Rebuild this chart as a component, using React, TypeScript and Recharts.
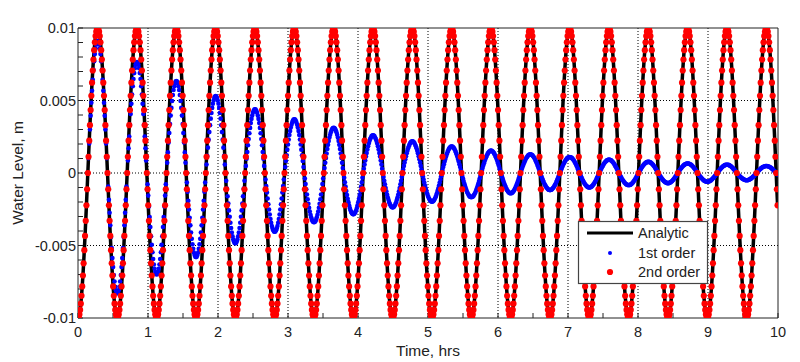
import { ComposedChart, Line, Scatter, XAxis, YAxis, CartesianGrid } from 'recharts';

// sampling interval of the model output (hrs)
const SAMPLE_STEP_HRS = 0.010034;
// levels below are stored in units of 0.01 mm (1e-5 m)
const LEVEL_UNIT_M = 1e-5;

// analytic solution, one half-cycle per row
const analyticLevel = [
  -1000, -994, -975, -944, -901, -847, -782, -707, -623, -532, -434, -330, -223, -112,
  0, 112, 223, 330, 434, 532, 623, 707, 782, 847, 901, 944, 975, 994, 1000, 994, 975, 944, 901, 847, 782, 707, 623, 532, 434, 330, 223, 112,
  0, -112, -223, -330, -434, -532, -623, -707, -782, -847, -901, -944, -975, -994, -1000, -994, -975, -944, -901, -847, -782, -707, -623, -532, -434, -330, -223, -112,
  0, 112, 223, 330, 434, 532, 623, 707, 782, 847, 901, 944, 975, 994, 1000, 994, 975, 944, 901, 847, 782, 707, 623, 532, 434, 330, 223, 112,
  0, -112, -223, -330, -434, -532, -623, -707, -782, -847, -901, -944, -975, -994, -1000, -994, -975, -944, -901, -847, -782, -707, -623, -532, -434, -330, -223, -112,
  0, 112, 223, 330, 434, 532, 623, 707, 782, 847, 901, 944, 975, 994, 1000, 994, 975, 944, 901, 847, 782, 707, 623, 532, 434, 330, 223, 112,
  0, -112, -223, -330, -434, -532, -623, -707, -782, -847, -901, -944, -975, -994, -1000, -994, -975, -944, -901, -847, -782, -707, -623, -532, -434, -330, -223, -112,
  0, 112, 223, 330, 434, 532, 623, 707, 782, 847, 901, 944, 975, 994, 1000, 994, 975, 944, 901, 847, 782, 707, 623, 532, 434, 330, 223, 112,
  0, -112, -223, -330, -434, -532, -623, -707, -782, -847, -901, -944, -975, -994, -1000, -994, -975, -944, -901, -847, -782, -707, -623, -532, -434, -330, -223, -112,
  0, 112, 223, 330, 434, 532, 623, 707, 782, 847, 901, 944, 975, 994, 1000, 994, 975, 944, 901, 847, 782, 707, 623, 532, 434, 330, 223, 112,
  0, -112, -223, -330, -434, -532, -623, -707, -782, -847, -901, -944, -975, -994, -1000, -994, -975, -944, -901, -847, -782, -707, -623, -532, -434, -330, -223, -112,
  0, 112, 223, 330, 434, 532, 623, 707, 782, 847, 901, 944, 975, 994, 1000, 994, 975, 944, 901, 847, 782, 707, 623, 532, 434, 330, 223, 112,
  0, -112, -223, -330, -434, -532, -623, -707, -782, -847, -901, -944, -975, -994, -1000, -994, -975, -944, -901, -847, -782, -707, -623, -532, -434, -330, -223, -112,
  0, 112, 223, 330, 434, 532, 623, 707, 782, 847, 901, 944, 975, 994, 1000, 994, 975, 944, 901, 847, 782, 707, 623, 532, 434, 330, 223, 112,
  0, -112, -223, -330, -434, -532, -623, -707, -782, -847, -901, -944, -975, -994, -1000, -994, -975, -944, -901, -847, -782, -707, -623, -532, -434, -330, -223, -112,
  0, 112, 223, 330, 434, 532, 623, 707, 782, 847, 901, 944, 975, 994, 1000, 994, 975, 944, 901, 847, 782, 707, 623, 532, 434, 330, 223, 112,
  0, -112, -223, -330, -434, -532, -623, -707, -782, -847, -901, -944, -975, -994, -1000, -994, -975, -944, -901, -847, -782, -707, -623, -532, -434, -330, -223, -112,
  0, 112, 223, 330, 434, 532, 623, 707, 782, 847, 901, 944, 975, 994, 1000, 994, 975, 944, 901, 847, 782, 707, 623, 532, 434, 330, 223, 112,
  0, -112, -223, -330, -434, -532, -623, -707, -782, -847, -901, -944, -975, -994, -1000, -994, -975, -944, -901, -847, -782, -707, -623, -532, -434, -330, -223, -112,
  0, 112, 223, 330, 434, 532, 623, 707, 782, 847, 901, 944, 975, 994, 1000, 994, 975, 944, 901, 847, 782, 707, 623, 532, 434, 330, 223, 112,
  0, -112, -223, -330, -434, -532, -623, -707, -782, -847, -901, -944, -975, -994, -1000, -994, -975, -944, -901, -847, -782, -707, -623, -532, -434, -330, -223, -112,
  0, 112, 223, 330, 434, 532, 623, 707, 782, 847, 901, 944, 975, 994, 1000, 994, 975, 944, 901, 847, 782, 707, 623, 532, 434, 330, 223, 112,
  0, -112, -223, -330, -434, -532, -623, -707, -782, -847, -901, -944, -975, -994, -1000, -994, -975, -944, -901, -847, -782, -707, -623, -532, -434, -330, -223, -112,
  0, 112, 223, 330, 434, 532, 623, 707, 782, 847, 901, 944, 975, 994, 1000, 994, 975, 944, 901, 847, 782, 707, 623, 532, 434, 330, 223, 112,
  0, -112, -223, -330, -434, -532, -623, -707, -782, -847, -901, -944, -975, -994, -1000, -994, -975, -944, -901, -847, -782, -707, -623, -532, -434, -330, -223, -112,
  0, 112, 223, 330, 434, 532, 623, 707, 782, 847, 901, 944, 975, 994, 1000, 994, 975, 944, 901, 847, 782, 707, 623, 532, 434, 330, 223, 112,
  0, -112, -223, -330, -434, -532, -623, -707, -782, -847, -901, -944, -975, -994, -1000, -994, -975, -944, -901, -847, -782, -707, -623, -532, -434, -330, -223, -112,
  0, 112, 223, 330, 434, 532, 623, 707, 782, 847, 901, 944, 975, 994, 1000, 994, 975, 944, 901, 847, 782, 707, 623, 532, 434, 330, 223, 112,
  0, -112, -223, -330, -434, -532, -623, -707, -782, -847, -901, -944, -975, -994, -1000, -994, -975, -944, -901, -847, -782, -707, -623, -532, -434, -330, -223, -112,
  0, 112, 223, 330, 434, 532, 623, 707, 782, 847, 901, 944, 975, 994, 1000, 994, 975, 944, 901, 847, 782, 707, 623, 532, 434, 330, 223, 112,
  0, -112, -223, -330, -434, -532, -623, -707, -782, -847, -901, -944, -975, -994, -1000, -994, -975, -944, -901, -847, -782, -707, -623, -532, -434, -330, -223, -112,
  0, 112, 223, 330, 434, 532, 623, 707, 782, 847, 901, 944, 975, 994, 1000, 994, 975, 944, 901, 847, 782, 707, 623, 532, 434, 330, 223, 112,
  0, -112, -223, -330, -434, -532, -623, -707, -782, -847, -901, -944, -975, -994, -1000, -994, -975, -944, -901, -847, -782, -707, -623, -532, -434, -330, -223, -112,
  0, 112, 223, 330, 434, 532, 623, 707, 782, 847, 901, 944, 975, 994, 1000, 994, 975, 944, 901, 847, 782, 707, 623, 532, 434, 330, 223, 112,
  0, -112, -223, -330, -434, -532, -623, -707, -782, -847, -901, -944, -975, -994, -1000, -994, -975, -944, -901, -847, -782, -707, -623, -532, -434, -330, -223, -112,
  0, 112, 223, 330, 434, 532, 623, 707, 782, 847, 901, 944, 975, 994, 1000, 994, 975, 944, 901, 847, 782, 707, 623, 532, 434, 330, 223, 112,
  0, -112, -223,
];

// 1st order scheme: damped, one half-cycle per row
const firstOrderLevel = [
  -1000, -994, -975, -944, -901, -847, -782, -707, -623, -532, -434, -330, -223, -112,
  0, 102, 203, 300, 395, 484, 567, 643, 712, 771, 820, 859, 887, 905, 910, 905, 887, 859, 820, 771, 712, 643, 567, 484, 395, 300, 203, 102,
  0, -93, -185, -274, -360, -442, -517, -587, -649, -703, -748, -784, -809, -825, -830, -825, -809, -784, -748, -703, -649, -587, -517, -442, -360, -274, -185, -93,
  0, 86, 171, 252, 332, 407, 477, 541, 598, 648, 689, 722, 746, 760, 765, 760, 746, 722, 689, 648, 598, 541, 477, 407, 332, 252, 171, 86,
  0, -78, -156, -231, -304, -372, -436, -495, -547, -593, -631, -661, -683, -696, -700, -696, -683, -661, -631, -593, -547, -495, -436, -372, -304, -231, -156, -78,
  0, 71, 142, 210, 276, 338, 396, 449, 497, 538, 572, 599, 619, 631, 635, 631, 619, 599, 572, 538, 497, 449, 396, 338, 276, 210, 142, 71,
  0, -65, -129, -191, -252, -309, -361, -410, -454, -491, -523, -548, -566, -577, -580, -577, -566, -548, -523, -491, -454, -410, -361, -309, -252, -191, -129, -65,
  0, 59, 118, 175, 230, 282, 330, 375, 414, 449, 478, 500, 517, 527, 530, 527, 517, 500, 478, 449, 414, 375, 330, 282, 230, 175, 118, 59,
  0, -54, -108, -160, -210, -258, -302, -343, -379, -411, -437, -458, -473, -482, -485, -482, -473, -458, -437, -411, -379, -343, -302, -258, -210, -160, -108, -54,
  0, 49, 98, 145, 191, 234, 274, 311, 344, 373, 396, 415, 429, 437, 440, 437, 429, 415, 396, 373, 344, 311, 274, 234, 191, 145, 98, 49,
  0, -45, -90, -134, -176, -215, -252, -286, -317, -343, -365, -382, -395, -403, -405, -403, -395, -382, -365, -343, -317, -286, -252, -215, -176, -134, -90, -45,
  0, 41, 83, 122, 161, 197, 231, 262, 289, 313, 333, 349, 361, 368, 370, 368, 361, 349, 333, 313, 289, 262, 231, 197, 161, 122, 83, 41,
  0, -38, -76, -112, -148, -181, -212, -240, -266, -288, -306, -321, -332, -338, -340, -338, -332, -321, -306, -288, -266, -240, -212, -181, -148, -112, -76, -38,
  0, 35, 70, 103, 135, 166, 194, 221, 244, 264, 281, 295, 304, 310, 312, 310, 304, 295, 281, 264, 244, 221, 194, 166, 135, 103, 70, 35,
  0, -32, -64, -94, -124, -152, -178, -201, -223, -241, -257, -269, -278, -283, -285, -283, -278, -269, -257, -241, -223, -201, -178, -152, -124, -94, -64, -32,
  0, 29, 58, 86, 113, 138, 162, 184, 203, 220, 234, 245, 254, 258, 260, 258, 254, 245, 234, 220, 203, 184, 162, 138, 113, 86, 58, 29,
  0, -27, -53, -78, -103, -126, -148, -168, -185, -201, -214, -224, -231, -236, -237, -236, -231, -224, -214, -201, -185, -168, -148, -126, -103, -78, -53, -27,
  0, 24, 49, 72, 95, 116, 136, 154, 170, 185, 196, 206, 213, 217, 218, 217, 213, 206, 196, 185, 170, 154, 136, 116, 95, 72, 49, 24,
  0, -22, -44, -65, -86, -105, -123, -140, -155, -168, -178, -187, -193, -197, -198, -197, -193, -187, -178, -168, -155, -140, -123, -105, -86, -65, -44, -22,
  0, 20, 41, 60, 79, 97, 114, 129, 143, 155, 165, 173, 178, 182, 183, 182, 178, 173, 165, 155, 143, 129, 114, 97, 79, 60, 41, 20,
  0, -19, -37, -55, -72, -89, -104, -118, -131, -141, -150, -158, -163, -166, -167, -166, -163, -158, -150, -141, -131, -118, -104, -89, -72, -55, -37, -19,
  0, 17, 34, 51, 67, 82, 96, 109, 120, 130, 139, 145, 150, 153, 154, 153, 150, 145, 139, 130, 120, 109, 96, 82, 67, 51, 34, 17,
  0, -16, -31, -46, -61, -74, -87, -99, -109, -119, -126, -132, -137, -139, -140, -139, -137, -132, -126, -119, -109, -99, -87, -74, -61, -46, -31, -16,
  0, 14, 29, 43, 56, 69, 80, 91, 101, 109, 116, 122, 126, 128, 129, 128, 126, 122, 116, 109, 101, 91, 80, 69, 56, 43, 29, 14,
  0, -13, -26, -39, -51, -63, -74, -83, -92, -100, -106, -111, -115, -117, -118, -117, -115, -111, -106, -100, -92, -83, -74, -63, -51, -39, -26, -13,
  0, 12, 25, 36, 48, 59, 69, 78, 86, 93, 99, 104, 107, 109, 110, 109, 107, 104, 99, 93, 86, 78, 69, 59, 48, 36, 25, 12,
  0, -11, -22, -33, -43, -53, -62, -71, -78, -85, -90, -94, -98, -99, -100, -99, -98, -94, -90, -85, -78, -71, -62, -53, -43, -33, -22, -11,
  0, 10, 21, 30, 40, 49, 57, 65, 72, 78, 83, 87, 90, 91, 92, 91, 90, 87, 83, 78, 72, 65, 57, 49, 40, 30, 21, 10,
  0, -9, -19, -28, -36, -45, -52, -59, -66, -71, -76, -79, -82, -83, -84, -83, -82, -79, -76, -71, -66, -59, -52, -45, -36, -28, -19, -9,
  0, 9, 17, 25, 33, 41, 48, 54, 60, 65, 69, 73, 75, 77, 77, 77, 75, 73, 69, 65, 60, 54, 48, 41, 33, 25, 17, 9,
  0, -8, -16, -23, -30, -37, -44, -49, -55, -59, -63, -66, -68, -70, -70, -70, -68, -66, -63, -59, -55, -49, -44, -37, -30, -23, -16, -8,
  0, 7, 15, 22, 29, 35, 41, 47, 52, 56, 59, 62, 64, 66, 66, 66, 64, 62, 59, 56, 52, 47, 41, 35, 29, 22, 15, 7,
  0, -7, -13, -20, -26, -32, -37, -42, -47, -51, -54, -57, -59, -60, -60, -60, -59, -57, -54, -51, -47, -42, -37, -32, -26, -20, -13, -7,
  0, 6, 13, 19, 25, 30, 36, 40, 45, 48, 51, 54, 56, 57, 57, 57, 56, 54, 51, 48, 45, 40, 36, 30, 25, 19, 13, 6,
  0, -6, -11, -17, -22, -27, -31, -35, -39, -42, -45, -47, -49, -50, -50, -50, -49, -47, -45, -42, -39, -35, -31, -27, -22, -17, -11, -6,
  0, 5, 11, 16, 21, 26, 30, 34, 38, 41, 43, 45, 47, 48, 48, 48, 47, 45, 43, 41, 38, 34, 30, 26, 21, 16, 11, 5,
  0, -5, -10,
];

// 2nd order scheme lies on the analytic curve at every sample
const secondOrderLevel = analyticLevel;

const xTicks = [0, 0.5, 1, 1.5, 2, 2.5, 3, 3.5, 4, 4.5, 5, 5.5, 6, 6.5, 7, 7.5, 8, 8.5, 9, 9.5, 10];
const xTickLabels = [0, 1, 2, 3, 4, 5, 6, 7, 8, 9, 10];
const xGrid = [1, 2, 3, 4, 5, 6, 7, 8, 9];
const yTicks = [
  -0.01, -0.009, -0.008, -0.007, -0.006, -0.005, -0.004, -0.003, -0.002, -0.001, 0,
  0.001, 0.002, 0.003, 0.004, 0.005, 0.006, 0.007, 0.008, 0.009, 0.01,
];
const yTickLabels = [-0.01, -0.005, 0, 0.005, 0.01];
const yGrid = [-0.005, 0, 0.005];

const data = analyticLevel.map((v, i) => ({
  t: i * SAMPLE_STEP_HRS,
  analytic: v * LEVEL_UNIT_M,
  first: firstOrderLevel[i] * LEVEL_UNIT_M,
  second: secondOrderLevel[i] * LEVEL_UNIT_M,
}));

const FONT = '"Liberation Sans", Arial, sans-serif';
const INK = '#222';
const tickStyle = { fontSize: 14.5, fill: INK, fontFamily: FONT };

const RedDot = (p: any) => <circle cx={p.cx} cy={p.cy} r={3.1} fill="#ff0000" />;
const BlueDot = (p: any) => <circle cx={p.cx} cy={p.cy} r={2.3} fill="#0000ff" />;

function LegendBox() {
  return (
    <svg width={800} height={362} style={{ position: 'absolute', left: 0, top: 0, pointerEvents: 'none' }}>
      <rect x={578.5} y={221.5} width={129} height={62} fill="#fff" stroke="#444" strokeWidth={1.2} />
      <line x1={587} x2={633} y1={233} y2={233} stroke="#000" strokeWidth={3} />
      <circle cx={610} cy={253} r={2} fill="#0000ff" />
      <circle cx={610} cy={272} r={3.1} fill="#ff0000" />
      <g fontFamily={FONT} fontSize={14.5} fill={INK}>
        <text x={638} y={238}>Analytic</text>
        <text x={638} y={258}>1st order</text>
        <text x={638} y={277}>2nd order</text>
      </g>
    </svg>
  );
}

export default function App() {
  return (
    <div style={{ position: 'absolute', left: 0, top: 0, width: 800, height: 362, background: '#fff', fontFamily: FONT }}>
      <ComposedChart width={800} height={362} data={data} margin={{ top: 27, right: 21, bottom: 6, left: 0 }}>
        <CartesianGrid
          stroke="#000"
          strokeDasharray="1 2"
          horizontalValues={yGrid}
          verticalValues={xGrid}
        />
        <XAxis
          type="number"
          dataKey="t"
          domain={[0, 10]}
          ticks={xTicks}
          interval={0}
          allowDataOverflow
          tickFormatter={(v: number) => (xTickLabels.includes(v) ? String(v) : '')}
          tick={tickStyle}
          tickSize={-5}
          tickMargin={14}
          height={38}
          axisLine={{ stroke: INK }}
          tickLine={{ stroke: INK }}
          label={{ value: 'Time, hrs', position: 'insideBottom', offset: 0, fontSize: 15.5, fill: INK }}
        />
        <XAxis
          xAxisId="top"
          orientation="top"
          type="number"
          domain={[0, 10]}
          ticks={xTicks}
          interval={0}
          tick={false}
          tickSize={-5}
          height={1}
          axisLine={{ stroke: INK }}
          tickLine={{ stroke: INK }}
        />
        <YAxis
          type="number"
          domain={[-0.01, 0.01]}
          ticks={yTicks}
          interval={0}
          allowDataOverflow
          tickFormatter={(v: number) => (yTickLabels.includes(v) ? String(v) : '')}
          tick={tickStyle}
          tickSize={-5}
          tickMargin={7}
          width={78}
          axisLine={{ stroke: INK }}
          tickLine={{ stroke: INK }}
          label={{
            value: 'Water Level, m',
            angle: -90,
            position: 'insideLeft',
            offset: 17,
            fontSize: 15.5,
            fill: INK,
            style: { textAnchor: 'middle' },
          }}
        />
        <YAxis
          yAxisId="right"
          orientation="right"
          type="number"
          domain={[-0.01, 0.01]}
          ticks={yTicks}
          interval={0}
          tick={false}
          tickSize={-5}
          width={1}
          axisLine={{ stroke: INK }}
          tickLine={{ stroke: INK }}
        />
        <Line
          dataKey="analytic"
          type="linear"
          stroke="#000"
          strokeWidth={3.5}
          dot={false}
          activeDot={false}
          isAnimationActive={false}
        />
        <Scatter dataKey="first" fill="#0000ff" shape={BlueDot} isAnimationActive={false} />
        <Scatter dataKey="second" fill="#ff0000" shape={RedDot} isAnimationActive={false} />
      </ComposedChart>
      <LegendBox />
    </div>
  );
}
